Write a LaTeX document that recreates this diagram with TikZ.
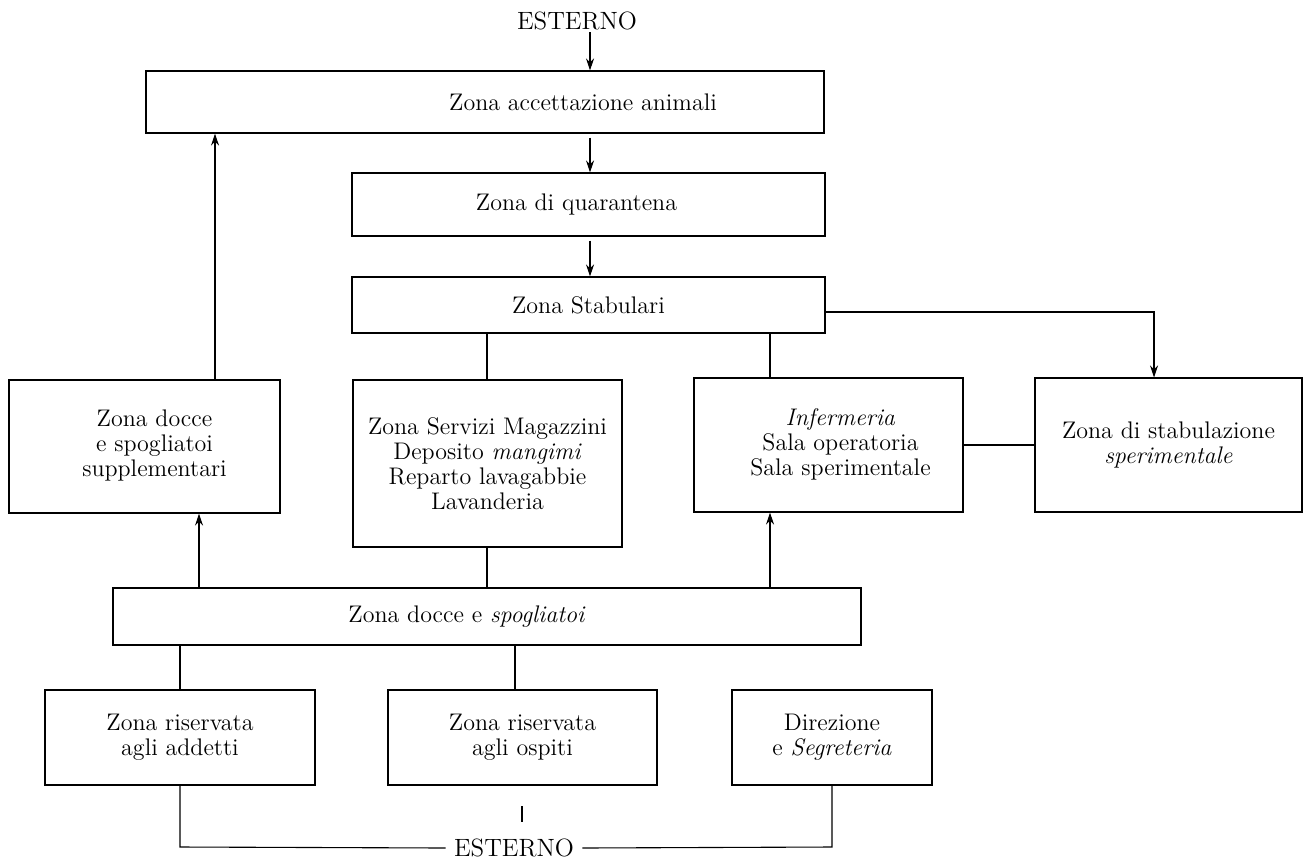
\documentclass[tikz,border=0pt]{standalone}
\usepackage{fontspec}
\usetikzlibrary{arrows.meta}
\begin{document}
\begin{tikzpicture}[x=0.5pt,y=-0.5pt,
  box/.style={draw, line width=0.55pt, rectangle, inner sep=0pt, align=center,
    font=\fontsize{12}{12.5}\selectfont},
  lbl/.style={inner sep=1pt, font=\fontsize{12.5}{12}\selectfont},
  conn/.style={line width=0.55pt},
  arr/.style={conn, -{Stealth[length=6pt,width=4pt]}}]
\useasboundingbox (0,0) rectangle (1310,862);

% top chain
\node[lbl] (esttop) at (577,21) {ESTERNO};
\node[box, minimum width=339pt, minimum height=31pt] (acc) at (485,102)
  {\hspace*{98pt}Zona accettazione animali};
\node[box, minimum width=236.5pt, minimum height=31.5pt] (qua) at (588.5,204.5)
  {\hspace*{-12pt}Zona di quarantena};
\node[box, minimum width=236.5pt, minimum height=28pt] (sta) at (588.5,305) {Zona Stabulari};

% middle row
\node[box, minimum width=135.5pt, minimum height=66.5pt] (supp) at (144.5,446.5)
  {\hspace*{10pt}\begin{tabular}{@{}c@{}}Zona docce\\e spogliatoi\\supplementari\end{tabular}};
\node[box, minimum width=134.5pt, minimum height=83.5pt] (serv) at (487.5,463.5)
  {Zona Servizi Magazzini\\Deposito \textit{mangimi}\\Reparto lavagabbie\\Lavanderia};
\node[box, minimum width=134.5pt, minimum height=67pt] (inf) at (828.5,445)
  {\hspace*{12pt}\begin{tabular}{@{}c@{}}\textit{Infermeria}\\Sala operatoria\\Sala sperimentale\end{tabular}};
\node[box, minimum width=133.5pt, minimum height=67pt] (stab) at (1168.5,445)
  {Zona di stabulazione\\\textit{sperimentale}};

% docce
\node[box, minimum width=374pt, minimum height=28.5pt] (doc) at (487,616.5)
  {\hspace*{-20pt}Zona docce e \textit{spogliatoi}};

% bottom row
\node[box, minimum width=135pt, minimum height=47.5pt] (add) at (180,737.5)
  {Zona riservata\\agli addetti};
\node[box, minimum width=134.5pt, minimum height=47.5pt] (osp) at (522.5,737.5)
  {Zona riservata\\agli ospiti};
\node[box, minimum width=100pt, minimum height=47.5pt] (dir) at (832,737.5)
  {Direzione\\e \textit{Segreteria}};
\node[lbl, inner xsep=4pt] (estbot) at (514,848) {ESTERNO};

% helper coordinates
\coordinate (xa) at (590,0);
\coordinate (xl) at (487,0);
\coordinate (xr) at (770,0);
\coordinate (xs) at (215,0);
\coordinate (xd) at (199,0);
\coordinate (xb) at (515,0);
\coordinate (turn) at (1154,312);
\coordinate (bl) at (180,847);
\coordinate (br) at (832,847);
\coordinate (os1) at (522,806);
\coordinate (os2) at (522,822);

% arrows of the main chain
\draw[arr] (esttop.south -| xa) -- (acc.north -| xa);
\draw[arr] (acc.south -| xa) ++(0,4) -- (qua.north -| xa);
\draw[arr] (qua.south -| xa) ++(0,4) -- (sta.north -| xa);

% Stabulari -> stabulazione
\draw[arr] (sta.east |- turn) -- (turn) -- (stab.north -| turn);
% Stabulari -- servizi / infermeria
\draw[conn] (sta.south -| xl) -- (serv.north -| xl);
\draw[conn] (sta.south -| xr) -- (inf.north -| xr);
% infermeria -- stabulazione
\draw[conn] (inf.east) -- (stab.west);
% supplementari -> accettazione
\draw[arr] (supp.north -| xs) -- (acc.south -| xs);
% docce -> supplementari, docce -> infermeria, servizi -- docce
\draw[arr] (doc.north -| xd) -- (supp.south -| xd);
\draw[arr] (doc.north -| xr) -- (inf.south -| xr);
\draw[conn] (serv.south -| xl) -- (doc.north -| xl);
% docce -- bottom boxes
\draw[conn] (doc.south -| add.south) -- (add.north);
\draw[conn] (doc.south -| xb) -- (osp.north -| xb);
% ospiti stub
\draw[conn] (os1) -- (os2);
% bottom ESTERNO
\draw[conn] (add.south) -- (bl) -- (estbot.west);
\draw[conn] (estbot.east) -- (br) -- (dir.south);
\end{tikzpicture}
\end{document}
